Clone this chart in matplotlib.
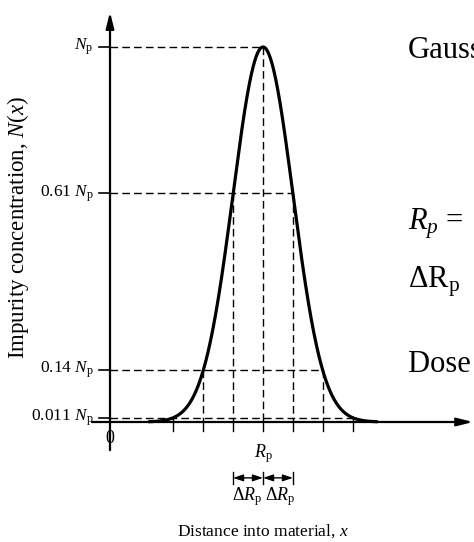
import numpy as np
import matplotlib.pyplot as plt

plt.rcParams['font.family'] = ['Liberation Serif', 'DejaVu Serif']
plt.rcParams['mathtext.fontset'] = 'custom'
plt.rcParams['mathtext.rm'] = 'Liberation Serif'
plt.rcParams['mathtext.it'] = 'Liberation Serif:italic'

# profile parameters (x in units of the straggle, N in units of the peak)
Np = 1.0
Rp = 5.1
dRp = 1.0

# marked levels and where they sit along x (multiples of dRp from Rp)
levels = [1.0, 0.61, 0.14, 0.011]
level_steps = [0, 1, 2, 3]
level_labels = [r'$N_\mathrm{p}$', r'0.61 $N_\mathrm{p}$',
                r'0.14 $N_\mathrm{p}$', r'0.011 $N_\mathrm{p}$']
tick_steps = [-3, -2, -1, 0, 1, 2, 3]

side_notes = ['Gaussian',
              r'$R_p$ =',
              r'$\Delta\mathrm{R}_\mathrm{p}$    =',
              'Dose  =']

fig = plt.figure(figsize=(4.74, 5.42), dpi=100)
ax = fig.add_axes([0, 0, 1, 1])
ax.axis('off')
ax.set_xlim(-110 / 30, 364 / 30)
ax.set_ylim(-120 / 375, 422 / 375)

dash = dict(color='k', lw=1.0, dashes=(5.5, 3))

# gaussian implant profile
x = np.linspace(Rp - 3.8 * dRp, Rp + 3.8 * dRp, 600)
N = Np * np.exp(-(x - Rp) ** 2 / (2 * dRp ** 2))
ax.plot(x, N, color='k', lw=2.3, solid_capstyle='round', zorder=5)

# axes with arrow heads
arrow = dict(arrowstyle='-|>,head_width=0.24,head_length=0.95', lw=1.6,
             color='k', mutation_scale=10, shrinkA=0, shrinkB=0)
ax.annotate('', xy=(0, 1.093), xytext=(0, -0.075), arrowprops=arrow)
ax.annotate('', xy=(12.1, 0), xytext=(-0.6, 0), arrowprops=arrow)
ax.text(0, -0.045, '0', ha='center', va='center', fontsize=13)

# level markers: tick on the N axis, dashed across to the curve, dashed down
for lev, k, lab in zip(levels, level_steps, level_labels):
    ax.plot([-0.37, 0], [lev, lev], color='k', lw=1.2)
    xr = Rp + k * dRp
    ax.plot([0, xr], [lev, lev], **dash)
    for xv in {Rp - k * dRp, xr}:
        ax.plot([xv, xv], [lev, 0], **dash)
    ax.text(-0.55, lev, lab, ha='right', va='center', fontsize=12.5)

# ticks on the x axis
for k in tick_steps:
    xt = Rp + k * dRp
    ax.plot([xt, xt], [0, -0.024], color='k', lw=1.0)

# Rp and straggle markers under the axis
ax.text(Rp, -0.085, r'$R_\mathrm{p}$', ha='center', va='center', fontsize=13)
ya = -0.149
span = dict(arrowstyle='<|-|>,head_width=0.2,head_length=0.6', lw=1.0,
            color='k', mutation_scale=10, shrinkA=0, shrinkB=0)
for a, b in [(Rp - dRp, Rp), (Rp, Rp + dRp)]:
    ax.annotate('', xy=(b, ya), xytext=(a, ya), arrowprops=span)
for xb in [Rp - dRp, Rp, Rp + dRp]:
    ax.plot([xb, xb], [ya - 0.016, ya + 0.016], color='k', lw=1.0)
for xc in [Rp - 0.53 * dRp, Rp + 0.58 * dRp]:
    ax.text(xc, -0.2, r'$\Delta R_\mathrm{p}$', ha='center', va='center',
            fontsize=13)

ax.text(Rp, -0.29, r'Distance into material, $x$', ha='center',
        va='center', fontsize=12.5)
ax.text(-3.07, 0.52, r'Impurity concentration, $N(x)$', rotation=90,
        ha='center', va='center', fontsize=16.5)

# notes on the right
for yv, note in zip([0.992, 0.53, 0.373, 0.152], side_notes):
    ax.text(9.93, yv, note, ha='left', va='center', fontsize=22)

fig.savefig('out.png', dpi=100)
